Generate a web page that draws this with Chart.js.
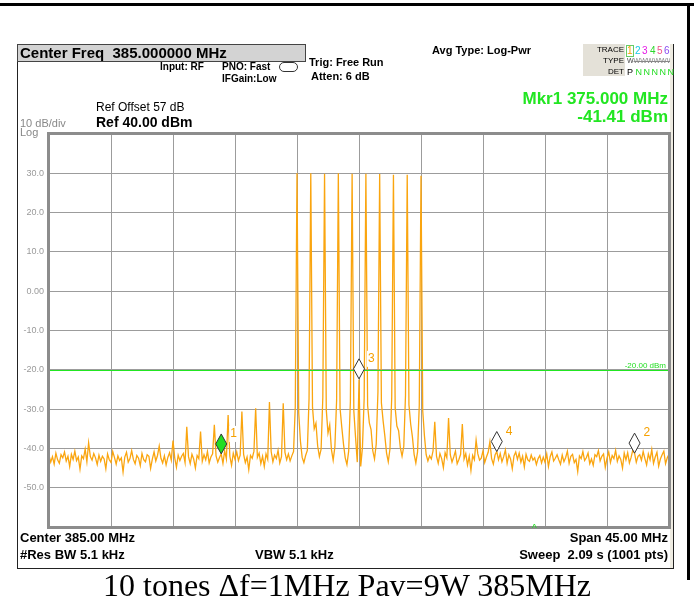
<!DOCTYPE html>
<html>
<head>
<meta charset="utf-8">
<script src="https://cdn.jsdelivr.net/npm/chart.js@4.4.1/dist/chart.umd.min.js"></script>
<style>
  html, body { margin: 0; padding: 0; background: #fff; }
  #wrap { position: relative; width: 694px; height: 604px; overflow: hidden; font-family: "Liberation Sans", Arial, sans-serif; }
  #wrap canvas { position: absolute; left: 0; top: 0; }
  .t { position: absolute; white-space: nowrap; line-height: 1; }
  .b { font-weight: bold; }
  .r { text-align: right; }
  .ln { position: absolute; }
</style>
</head>
<body>
<div id="wrap">
  <div class="ln" style="left:0;top:3px;width:694px;height:3px;background:#000"></div>
  <div class="ln" style="left:687px;top:3px;width:3px;height:577px;background:#000"></div>
  <div class="ln" style="left:17px;top:44px;width:1px;height:525px;background:#222"></div>
  <div class="ln" style="left:17px;top:568px;width:657px;height:1px;background:#222"></div>
  <div class="ln" style="left:670px;top:44px;width:3px;height:524px;background:#efece2"></div>
  <div class="ln" style="left:673px;top:44px;width:1px;height:525px;background:#222"></div>

  <canvas id="sa" width="694" height="604"></canvas>

  <div class="ln" style="left:17px;top:44px;width:287px;height:16px;background:#d3d3d3;border:1px solid #444"></div>
  <div class="t b" style="left:20px;top:45px;font-size:15px">Center Freq&nbsp; 385.000000 MHz</div>
  <div class="t b" style="left:160px;top:62px;font-size:10px">Input: RF</div>
  <div class="t b" style="left:222px;top:62px;font-size:10px">PNO: Fast</div>
  <div class="ln" style="left:279px;top:62px;width:17px;height:8px;border:1px solid #333;border-radius:5px"></div>
  <div class="t b" style="left:222px;top:74px;font-size:10px">IFGain:Low</div>
  <div class="t b" style="left:309px;top:57px;font-size:11px">Trig: Free Run</div>
  <div class="t b" style="left:311px;top:71px;font-size:11px">Atten: 6 dB</div>
  <div class="t b" style="left:432px;top:45px;font-size:11px">Avg Type: Log-Pwr</div>

  <div class="ln" style="left:583px;top:44px;width:42px;height:32px;background:#e4e1d8"></div>
  <div class="t r" style="left:583px;top:46px;width:41px;font-size:8px">TRACE</div>
  <div class="t r" style="left:583px;top:57px;width:41px;font-size:8px">TYPE</div>
  <div class="t r" style="left:583px;top:68px;width:41px;font-size:8px">DET</div>
  <div class="t" style="left:627px;top:46px;font-size:10px;color:#f5a000;outline:1px solid #6c6">1</div>
  <div class="t" style="left:635px;top:46px;font-size:10px;color:#19c9e6">2</div>
  <div class="t" style="left:642px;top:46px;font-size:10px;color:#e619e6">3</div>
  <div class="t" style="left:650px;top:46px;font-size:10px;color:#2bd62b">4</div>
  <div class="t" style="left:657px;top:46px;font-size:10px;color:#f0508a">5</div>
  <div class="t" style="left:664px;top:46px;font-size:10px;color:#8a4cf0">6</div>
  <div class="t" style="left:627px;top:57px;width:43px;overflow:hidden;font-size:7px;color:#444">W<span style="color:#888;text-decoration:line-through">WWWWWWWWW</span></div>
  <div class="t" style="left:627px;top:68px;font-size:9px">P&nbsp;<span style="color:#22dd22;letter-spacing:1.5px">NNNNN</span></div>

  <div class="t b r" style="right:26px;top:90px;font-size:17px;color:#22e622">Mkr1 375.000 MHz</div>
  <div class="t b r" style="right:26px;top:108px;font-size:17px;color:#22e622">-41.41 dBm</div>
  <div class="t" style="left:96px;top:101px;font-size:12px">Ref Offset 57 dB</div>
  <div class="t b" style="left:96px;top:115px;font-size:14px">Ref 40.00 dBm</div>
  <div class="t" style="left:20px;top:118px;font-size:11px;color:#888">10 dB/div</div>
  <div class="t" style="left:20px;top:127px;font-size:11px;color:#888">Log</div>

  <div class="t" style="left:532px;top:524px;font-size:10px;color:#22dd22">^</div>
  <div class="t b" style="left:20px;top:531px;font-size:13px">Center 385.00 MHz</div>
  <div class="t b" style="left:20px;top:548px;font-size:13px">#Res BW 5.1 kHz</div>
  <div class="t b" style="left:255px;top:548px;font-size:13px">VBW 5.1 kHz</div>
  <div class="t b r" style="right:26px;top:531px;font-size:13px">Span 45.00 MHz</div>
  <div class="t b r" style="right:26px;top:548px;font-size:13px">Sweep&nbsp; 2.09 s (1001 pts)</div>

  <div class="t" style="left:0;width:694px;text-align:center;top:569px;font-size:32px;font-family:'Liberation Serif','Times New Roman',serif">10 tones &Delta;f=1MHz Pav=9W 385MHz</div>
</div>

<script>
// sweep: 362.5 .. 407.5 MHz, one reading every 0.125 MHz (dBm)
const freqStart = 362.5;
const freqStep = 0.125;
const levels = [
  -41.8, -43.5, -42.1, -44.0, -41.2, -42.9, -43.8, -41.6,
  -42.4, -40.9, -43.2, -42.0, -44.6, -41.5, -42.8, -40.7,
  -43.1, -42.2, -45.3, -41.9, -42.6, -40.2, -43.4, -38.6,
  -42.1, -43.0, -41.3, -42.4, -44.1, -41.7, -43.3, -42.0,
  -42.7, -45.2, -41.4, -42.9, -43.6, -40.8, -42.3, -44.0,
  -41.9, -43.1, -42.4, -46.0, -42.2, -41.0, -43.5, -42.6,
  -40.6, -42.8, -43.9, -41.8, -42.5, -44.4, -41.3, -42.9,
  -43.4, -41.6, -42.0, -45.1, -42.7, -40.9, -43.2, -41.8,
  -39.4, -42.5, -43.7, -41.9, -44.2, -42.3, -41.1, -43.0,
  -38.0, -42.4, -44.8, -41.7, -43.1, -42.0, -41.3, -43.6,
  -34.5, -42.1, -43.9, -41.5, -42.7, -45.0, -41.8, -42.6,
  -35.7, -43.3, -41.6, -42.9, -40.8, -43.7, -42.2, -41.4,
  -34.0, -41.9, -43.5, -42.3, -41.4, -43.8, -40.6, -42.7,
  -31.5, -42.0, -44.3, -41.2, -42.8, -40.9, -43.1, -41.7,
  -30.6, -41.5, -43.6, -42.2, -45.4, -41.8, -42.5, -40.7,
  -29.8, -42.3, -41.2, -43.9, -42.0, -44.6, -41.4, -42.8,
  -28.2, -40.8, -43.4, -41.7, -42.6, -40.5, -43.7, -42.1,
  -28.5, -41.0, -42.9, -41.4, -43.2, -41.9, -40.8, -29.4,
   30.0, -31.0, -38.2, -42.3, -43.6, -41.8, -40.5, -27.3,
   30.0, -29.5, -35.0, -33.6, -39.4, -42.1, -40.2, -26.9,
   29.9, -30.2, -36.1, -34.0, -40.3, -43.0, -39.6, -27.7,
   30.0, -29.8, -34.6, -38.9, -42.4, -44.1, -40.7, -28.0,
   29.9, -30.5, -37.2, -43.5, -22.5, -44.6, -39.8, -27.3,
   29.9, -29.1, -33.5, -35.2, -40.6, -42.7, -38.9, -25.6,
   29.8, -28.4, -33.0, -36.8, -41.2, -43.4, -40.1, -27.0,
   29.6, -29.7, -34.3, -35.5, -39.8, -42.0, -39.5, -26.5,
   29.6, -28.9, -33.8, -37.0, -41.5, -43.7, -40.9, -29.0,
   29.4, -30.4, -36.8, -41.6, -43.2, -41.9, -42.7, -40.6,
  -33.2, -42.0, -43.8, -41.3, -42.6, -44.9, -41.1, -42.4,
  -32.3, -41.6, -43.5, -42.2, -40.7, -43.9, -42.8, -41.5,
  -33.8, -42.7, -41.3, -44.2, -42.0, -45.6, -41.8, -42.9,
  -37.9, -41.4, -43.0, -42.5, -40.6, -43.6, -42.2, -41.0,
  -38.3, -42.6, -44.0, -41.7, -40.8, -42.9, -41.3, -43.4,
  -42.1, -40.4, -43.8, -41.6, -42.7, -45.2, -41.9, -40.9,
  -42.8, -41.2, -43.5, -42.0, -44.7, -41.5, -42.9, -43.3,
  -41.7, -43.0, -42.4, -44.1, -42.6, -41.8, -43.7, -42.2,
  -43.5, -41.4, -44.6, -42.1, -40.9, -43.2, -42.5, -41.6,
  -42.9, -44.0, -41.7, -43.4, -42.3, -40.7, -43.8, -42.0,
  -41.5, -43.6, -42.8, -45.9, -41.9, -42.6, -40.8, -43.1,
  -42.4, -41.2, -43.9, -42.7, -44.3, -41.6, -42.1, -40.6,
  -43.2, -42.0, -41.4, -44.8, -42.5, -40.9, -43.6, -41.8,
  -42.6, -40.5, -43.3, -41.9, -42.8, -45.0, -41.2, -42.9,
  -41.1, -43.7, -42.3, -40.4, -41.2, -43.5, -42.0, -41.6,
  -43.0, -40.8, -42.6, -44.2, -41.4, -42.9, -40.3, -43.8,
  -42.2, -41.0, -44.5, -42.7, -41.6, -40.7, -43.9, -42.4,
  -41.5
];

// markers
const markerNames = ['1', '2', '3', '4'];
const markerFreqs = [375.0, 405.0, 385.0, 395.0];
const markerLevels = [-41.41, -41.2, -22.3, -40.8];

// display line
const displayLine = -20;

// grid: 10 divisions of 4.5 MHz, 10 dB/div
const gridFreqs = [362.5, 367, 371.5, 376, 380.5, 385, 389.5, 394, 398.5, 403, 407.5];
const refLevel = 40;
const bottomLevel = -60;

const freqs = levels.map((v, i) => freqStart + i * freqStep);

const saDecor = {
  id: 'saDecor',
  afterDatasetsDraw(chart) {
    const ctx = chart.ctx;
    const area = chart.chartArea;
    const xs = chart.scales.x, ys = chart.scales.y;

    // display line
    const yl = Math.round(ys.getPixelForValue(displayLine)) + 0.5;
    ctx.save();
    ctx.strokeStyle = '#22e622';
    ctx.lineWidth = 1;
    ctx.beginPath();
    ctx.moveTo(area.left, yl);
    ctx.lineTo(area.right, yl);
    ctx.stroke();
    ctx.fillStyle = '#22dd22';
    ctx.font = '8px "Liberation Sans", Arial';
    ctx.textAlign = 'right';
    ctx.textBaseline = 'bottom';
    ctx.fillText('-20.00 dBm', area.right - 3, yl - 1);

    // markers
    markerFreqs.forEach(function(f, i) {
      const px = xs.getPixelForValue(f);
      const py = ys.getPixelForValue(markerLevels[i]);
      ctx.beginPath();
      ctx.moveTo(px, py);
      ctx.lineTo(px + 5.5, py - 10);
      ctx.lineTo(px, py - 20);
      ctx.lineTo(px - 5.5, py - 10);
      ctx.closePath();
      ctx.fillStyle = i === 0 ? '#22dd22' : '#ffffff';
      ctx.fill();
      ctx.strokeStyle = '#333';
      ctx.lineWidth = 1;
      ctx.stroke();

      ctx.font = '12px "Liberation Sans", Arial';
      ctx.textAlign = 'left';
      ctx.textBaseline = 'middle';
      const w = ctx.measureText(markerNames[i]).width;
      ctx.fillStyle = '#ffffff';
      ctx.fillRect(px + 8, py - 28, w + 3, 16);
      ctx.fillStyle = '#f5a000';
      ctx.fillText(markerNames[i], px + 9, py - 20);
    });

    // plot frame
    ctx.strokeStyle = '#8c8c8c';
    ctx.lineWidth = 3;
    ctx.strokeRect(area.left - 0.5, area.top - 0.5, area.right - area.left + 1, area.bottom - area.top + 1);
    ctx.restore();
  }
};

new Chart(document.getElementById('sa'), {
  type: 'line',
  data: {
    datasets: [{
      label: 'Trace 1',
      data: levels.map((v, i) => ({ x: freqs[i], y: v })),
      borderColor: 'rgb(250, 165, 15)',
      borderWidth: 1.3,
      pointRadius: 0,
      tension: 0,
      fill: false
    }]
  },
  options: {
    responsive: false,
    animation: false,
    devicePixelRatio: 1,
    layout: { padding: { left: 0, top: 134, right: 25, bottom: 77 } },
    plugins: { legend: { display: false }, tooltip: { enabled: false } },
    scales: {
      x: {
        type: 'linear',
        min: gridFreqs[0],
        max: gridFreqs[gridFreqs.length - 1],
        afterBuildTicks(scale) { scale.ticks = gridFreqs.map(v => ({ value: v })); },
        afterFit(scale) { scale.height = 0; },
        ticks: { display: false },
        grid: { color: '#9c9c9c', lineWidth: 1, drawTicks: false },
        border: { display: false }
      },
      y: {
        min: bottomLevel,
        max: refLevel,
        afterFit(scale) { scale.width = 49; },
        ticks: {
          stepSize: 10,
          padding: 5,
          color: '#9a9a9a',
          font: { family: '"Liberation Sans", Arial', size: 9 },
          callback(v) {
            if (v === refLevel || v === bottomLevel) return '';
            return v === 0 ? '0.00' : v.toFixed(1);
          }
        },
        grid: { color: '#9c9c9c', lineWidth: 1, drawTicks: false },
        border: { display: false }
      }
    }
  },
  plugins: [saDecor]
});
</script>
</body>
</html>
